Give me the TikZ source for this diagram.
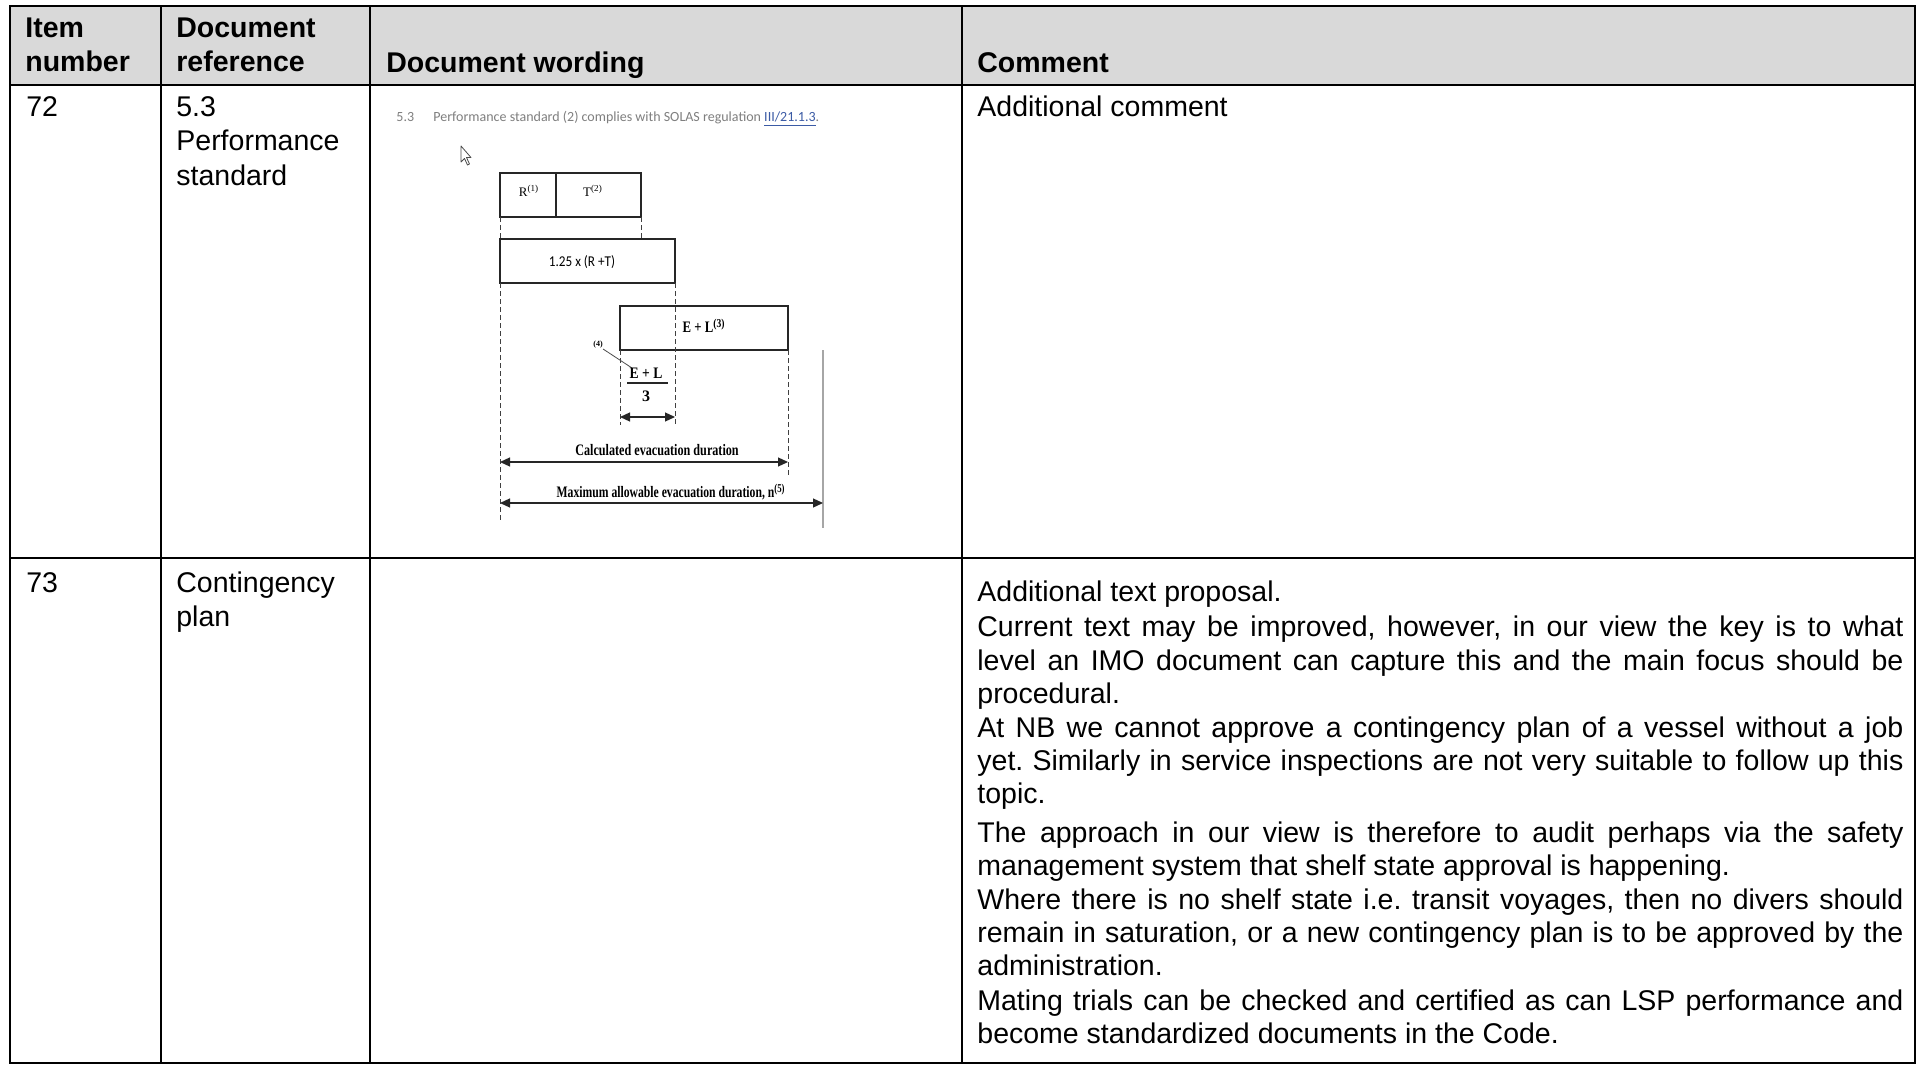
\documentclass[tikz,border=0pt]{standalone}
\usepackage{fontspec}
\usepackage{graphicx}
\setmainfont{Liberation Sans}
\newfontfamily\figserif{Liberation Serif}
\newfontfamily\figsans{Carlito}
\usetikzlibrary{arrows.meta}
\definecolor{hdrgray}{HTML}{D9D9D9}
\definecolor{figgray}{HTML}{7F7F7F}
\definecolor{linkblue}{HTML}{3B5BA5}
\newcommand{\bodyfont}{\fontsize{14.25}{16.5}\selectfont\frenchspacing}
\newcommand{\jline}[1]{\makebox[463pt][s]{#1}}
\begin{document}
\begin{tikzpicture}[x=0.5pt,y=-0.5pt,
  tbl/.style={line width=1.25pt, black},
  cell/.style={anchor=base west, inner sep=0pt, font=\bodyfont},
  hcell/.style={anchor=base west, inner sep=0pt, font=\bodyfont\bfseries},
  figbox/.style={line width=0.9pt, black!85},
  figdash/.style={line width=0.5pt, black!75, dash pattern=on 2.5pt off 1.5pt},
  dimarrow/.style={line width=0.6pt, black!85, {Triangle[length=5pt,width=4.5pt]}-{Triangle[length=5pt,width=4.5pt]}},
  figlabel/.style={inner sep=0pt, font=\figserif\fontsize{8}{9}\selectfont\bfseries},
  figsmall/.style={inner sep=0pt, font=\figserif\fontsize{6.5}{7}\selectfont},
  figtop/.style={anchor=base west, inner sep=0pt, text=figgray, font=\figsans\fontsize{7}{8}\selectfont},
]
\useasboundingbox[fill=white] (0,0) rectangle (1923,1065);
% header band
\fill[hdrgray] (10,6) rectangle (1915,85);
% table grid
\draw[tbl] (10,6) rectangle (1915,1063);
\draw[tbl] (10,85) -- (1915,85);
\draw[tbl] (10,558) -- (1915,558);
\foreach \cx in {161,370,962} {\draw[tbl] (\cx,6) -- (\cx,1063);}

% header texts
\node[hcell] (h1a) at (25,38) {Item};
\node[hcell] (h1b) at (25,72) {number};
\node[hcell] (h2a) at (176,38) {Document};
\node[hcell] (h2b) at (176,72) {reference};
\node[hcell] (h3) at (386,73) {Document wording};
\node[hcell] (h4) at (977,73) {Comment};

% row 72
\node[cell] (r72a) at (26,117) {72};
\node[cell] (r72b1) at (176,117) {5.3};
\node[cell] (r72b2) at (176,151) {Performance};
\node[cell] (r72b3) at (176,185) {standard};
\node[cell] (r72d) at (977,117) {Additional comment};

% row 73
\node[cell] (r73a) at (26,592) {73};
\node[cell] (r73b1) at (176,592) {Contingency};
\node[cell] (r73b2) at (176,626) {plan};
\node[cell] (c1) at (977,601) {Additional text proposal.};
\node[cell] (c2) at (977,636.6) {\jline{Current text may be improved, however, in our view the key is to what}};
\node[cell] (c3) at (977,670) {\jline{level an IMO document can capture this and the main focus should be}};
\node[cell] (c4) at (977,703.5) {procedural.};
\node[cell] (c5) at (977,737.4) {\jline{At NB we cannot approve a contingency plan of a vessel without a job}};
\node[cell] (c6) at (977,770.5) {\jline{yet. Similarly in service inspections are not very suitable to follow up this}};
\node[cell] (c7) at (977,803.5) {topic.};
\node[cell] (c8) at (977,842) {\jline{The approach in our view is therefore to audit perhaps via the safety}};
\node[cell] (c9) at (977,875) {management system that shelf state approval is happening.};
\node[cell] (c10) at (977,909.5) {\jline{Where there is no shelf state i.e. transit voyages, then no divers should}};
\node[cell] (c11) at (977,942.5) {\jline{remain in saturation, or a new contingency plan is to be approved by the}};
\node[cell] (c12) at (977,975) {administration.};
\node[cell] (c13) at (977,1010) {\jline{Mating trials can be checked and certified as can LSP performance and}};
\node[cell] (c14) at (977,1043) {become standardized documents in the Code.};

% ---- embedded figure ----
\node[figtop] (s53) at (396,122) {5.3};
\node[figtop] (sperf) at (433,122) {Performance standard (2) complies with SOLAS regulation \textcolor{linkblue}{\underline{III/21.1.3}}.};
% cursor
\draw[line width=0.4pt, black!70, fill=white, line join=round] (461,146) -- (461,162) -- (464.5,158.5) -- (467.5,165) -- (469.5,164) -- (466.5,157.5) -- (471,157.5) -- cycle;

% boxes
\draw[figbox] (500,173) rectangle (641,217);
\draw[figbox] (556,173) -- (556,217);
\draw[figbox] (500,239) rectangle (675,283);
\draw[figbox] (620,306) rectangle (788,350);

% dashed guides
\draw[figdash] (500,217) -- (500,239);
\draw[figdash] (641,217) -- (641,239);
\draw[figdash] (500,283) -- (500,522);
\draw[figdash] (675,283) -- (675,425);
\draw[figdash] (620,350) -- (620,425);
\draw[figdash] (788,350) -- (788,478);
\draw[line width=0.6pt, black!35] (823,350) -- (823,528);

% labels
\node[figsmall] (lblR) at (529,191) {R\textsuperscript{(1)}};
\node[figsmall] (lblT) at (593,191) {T\textsuperscript{(2)}};
\node[inner sep=0pt, font=\figsans\fontsize{7.5}{8}\selectfont] (lbl125) at (582,262) {\scalebox{0.88}[1]{1.25 x (R +T)}};
\node[figlabel] (lblEL) at (704,326) {\scalebox{0.8}[1]{E + L\textsuperscript{(3)}}};
\node[inner sep=0pt, font=\figserif\fontsize{4}{5}\selectfont\bfseries] (lbl4) at (598,345) {(4)};
\coordinate (l4end) at (632,368);
\draw[line width=0.4pt, black!70] (lbl4.south east) -- (l4end);
\node[figlabel] (fnum) at (646,373) {\scalebox{0.85}[1]{E + L}};
\node[figlabel] (fden) at (646,396) {3};
\draw[line width=0.7pt, black!85] (627,383) -- (668,383);

% dimension arrows
\coordinate (sL) at (620,417); \coordinate (sR) at (675,417);
\draw[dimarrow] (sL) -- (sR);
\node[figlabel] (lblcalc) at (657,450) {\scalebox{0.76}[1]{Calculated evacuation duration}};
\coordinate (cL) at (500,462); \coordinate (cR) at (788,462);
\draw[dimarrow] (cL) -- (cR);
\node[figlabel] (lblmax) at (671,492) {\scalebox{0.73}[1]{Maximum allowable evacuation duration, n\textsuperscript{(5)}}};
\coordinate (mL) at (500,503); \coordinate (mR) at (823,503);
\draw[dimarrow] (mL) -- (mR);
\end{tikzpicture}
\end{document}
